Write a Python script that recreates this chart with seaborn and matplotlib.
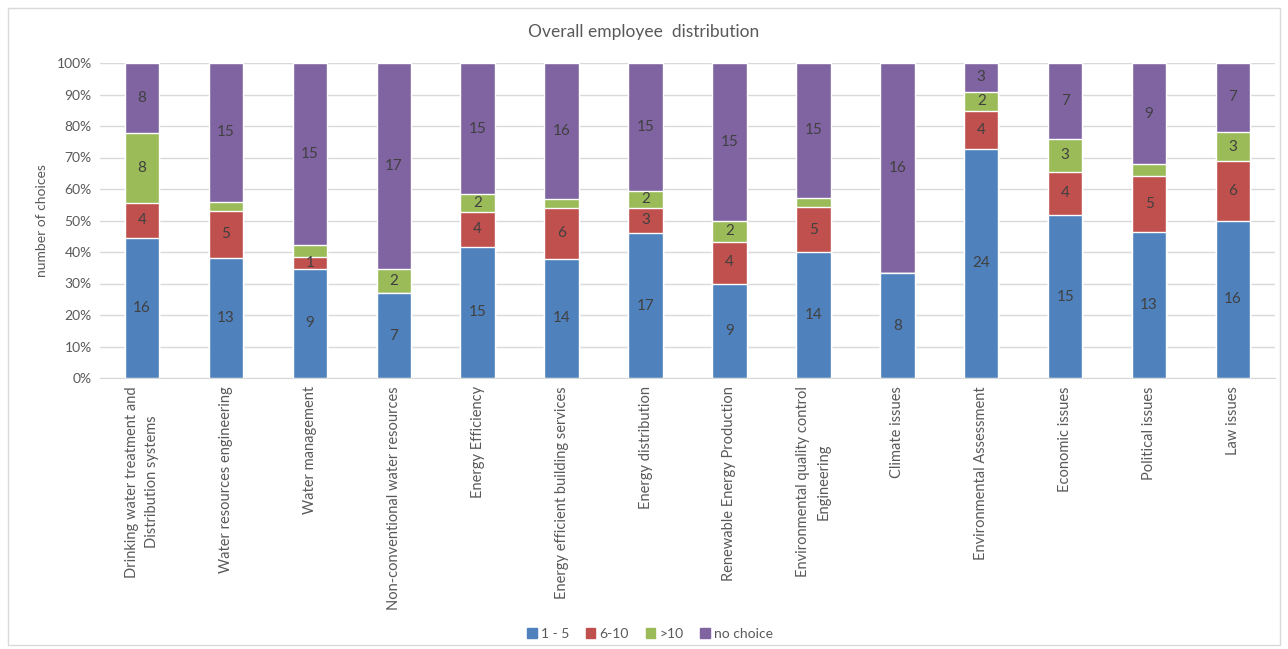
import numpy as np
import pandas as pd
import matplotlib
matplotlib.use("Agg")
import matplotlib.pyplot as plt
import seaborn as sns
from matplotlib.patches import Rectangle

categories = [
    "Drinking water treatment and\nDistribution systems",
    "Water resources engineering",
    "Water management",
    "Non-conventional water resources",
    "Energy Efficiency",
    "Energy efficient building services",
    "Energy distribution",
    "Renewable Energy Production",
    "Environmental quality control\nEngineering",
    "Climate issues",
    "Environmental Assessment",
    "Economic issues",
    "Political issues",
    "Law issues",
]
one_to_five = [16, 13, 9, 7, 15, 14, 17, 9, 14, 8, 24, 15, 13, 16]
six_to_ten = [4, 5, 1, 0, 4, 6, 3, 4, 5, 0, 4, 4, 5, 6]
over_ten = [8, 1, 1, 2, 2, 1, 2, 2, 1, 0, 2, 3, 1, 3]
no_choice = [8, 15, 15, 17, 15, 16, 15, 15, 15, 16, 3, 7, 9, 7]

series = ["1 - 5", "6-10", ">10", "no choice"]
colors = ["#4F81BD", "#C0504D", "#9BBB59", "#8064A2"]

df = pd.DataFrame({"category": categories, "1 - 5": one_to_five, "6-10": six_to_ten,
                   ">10": over_ten, "no choice": no_choice})
totals = df[series].sum(axis=1)
pct = df[series].div(totals, axis=0) * 100

sns.set_style("white")
plt.rcParams['font.family'] = ['Lato', 'DejaVu Sans']

fig = plt.figure(figsize=(12.88, 6.49), dpi=100)
ax = fig.add_axes([100 / 1288, 1 - 378 / 649, 1175 / 1288, 315 / 649])
fig.patches.append(Rectangle((8 / 1288, 4 / 649), 1272 / 1288, 637 / 649, transform=fig.transFigure,
                             fill=False, edgecolor="#D9D9D9", lw=1))

# stacked bars via seaborn, drawing cumulative totals from top down
cum = pct.cumsum(axis=1)
long = []
for s in series:
    for c, v in zip(categories, cum[s]):
        long.append({"category": c, "series": s, "value": v})
long = pd.DataFrame(long)
for s, col in reversed(list(zip(series, colors))):
    sub = long[long["series"] == s]
    sns.barplot(data=sub, x="category", y="value", color=col, width=0.41,
                ax=ax, saturation=1, label=s, zorder=3)

# data labels
for i in range(len(categories)):
    bottom = 0
    for s in series:
        v = df[s][i]
        h = pct[s][i]
        show = v > 0 and not (s == ">10" and v < 2)
        if show:
            ax.text(i, bottom + h / 2, str(v), ha="center", va="center",
                    fontsize=11, color="#404040", zorder=4)
        bottom += h

ax.set_ylim(0, 100)
ax.set_xlim(-0.5, 13.5)
ax.set_yticks(np.arange(0, 101, 10))
ax.set_yticklabels([f"{t}%" for t in range(0, 101, 10)], fontsize=10, color="#595959")
ax.set_xticks(range(len(categories)))
ax.set_xticklabels(categories, rotation=90, fontsize=10.5, color="#595959", va="top", ha="center",
                   linespacing=1.55)
ax.tick_params(axis="both", length=0, pad=6)
ax.yaxis.grid(True, color="#D9D9D9", lw=1, zorder=0)
ax.set_axisbelow(True)
for sp in ["top", "right", "left"]:
    ax.spines[sp].set_visible(False)
ax.spines["bottom"].set_color("#D9D9D9")
ax.set_xlabel("")
ax.set_ylabel("number of choices", fontsize=10, color="#595959", labelpad=6)

fig.text(0.5, 1 - 32 / 649, "Overall employee  distribution", ha="center", va="center",
         fontsize=12.5, color="#595959")

handles = [Rectangle((0, 0), 1, 1, color=c) for c in colors]
fig.legend(handles, series, loc="center", bbox_to_anchor=(650 / 1288, 1 - 634 / 649), ncol=4,
           frameon=False, fontsize=10, handlelength=0.7, handleheight=0.7, handletextpad=0.3,
           columnspacing=1.2, labelcolor="#595959")
if ax.get_legend():
    ax.get_legend().remove()

fig.savefig("out.png", dpi=100)
